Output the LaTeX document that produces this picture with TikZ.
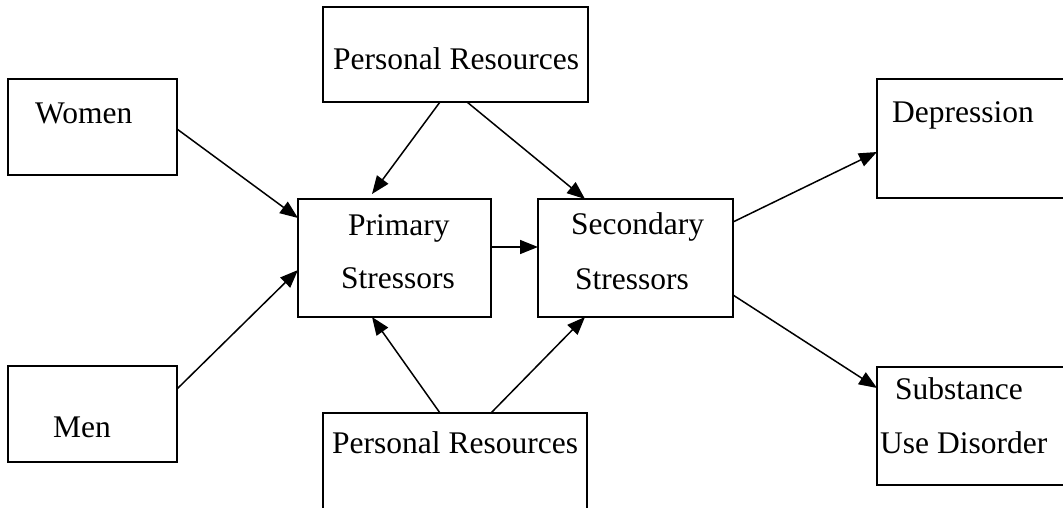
\documentclass[tikz,border=0pt]{standalone}
\usepackage{fontspec}
\setmainfont{Liberation Serif}
\usetikzlibrary{calc,arrows.meta}
\tikzset{
  box/.style={draw=black, line width=1.8pt, rectangle, inner sep=0pt, outer sep=0pt},
  lbl/.style={anchor=base west, inner sep=0pt, font=\fontsize{31.5}{38}\selectfont},
  link/.style={line width=1.5pt, -{Triangle[length=18pt,width=14pt]}}
}
\begin{document}
\begin{tikzpicture}[x=1pt,y=-1pt]
\useasboundingbox (0,0) rectangle (1063,508);
\clip (0,0) rectangle (1063,508);
\fill[white] (0,0) rectangle (1063,508);

% boxes
\node[box, minimum width=169, minimum height=96]  (women)     at (92.5,127)   {};
\node[box, minimum width=169, minimum height=96]  (men)       at (92.5,414)   {};
\node[box, minimum width=265, minimum height=95]  (prtop)     at (455.5,54.5) {};
\node[box, minimum width=264, minimum height=107] (prbot)     at (455,466.5)  {};
\node[box, minimum width=193, minimum height=118] (primary)   at (394.5,258)  {};
\node[box, minimum width=195, minimum height=118] (secondary) at (635.5,258)  {};
\node[box, minimum width=198, minimum height=119] (depr)      at (976,138.5)  {};
\node[box, minimum width=198, minimum height=118] (subst)     at (976,426)    {};

% labels
\node[lbl] (tw)  at (35,124)  {Women};
\node[lbl] (tm)  at (53,437)  {Men};
\node[lbl] (tpt) at (333,70)  {Personal Resources};
\node[lbl] (tpb) at (332,453) {Personal Resources};
\node[lbl] (tp1) at (348,235) {Primary};
\node[lbl] (tp2) at (341,288) {Stressors};
\node[lbl] (ts1) at (571,234) {Secondary};
\node[lbl] (ts2) at (575,289) {Stressors};
\node[lbl] (td)  at (892,123) {Depression};
\node[lbl] (tu1) at (895,399) {Substance};
\node[lbl] (tu2) at (880,453) {Use Disorder};

% connectors
\draw[link] ($(women.east)+(0,2)$) -- ($(primary.north west)+(0,19)$);
\draw[link] ($(men.north east)+(0,23)$) -- ($(primary.north west)+(0,71)$);
\draw[link] ($(prtop.south west)+(117,0)$) -- ($(primary.north west)+(74,-5)$);
\draw[link] ($(prtop.south west)+(144,0)$) -- ($(secondary.north west)+(47,0)$);
\draw[link] ($(primary.north east)+(0,48)$) -- ($(secondary.north west)+(0,48)$);
\draw[link] ($(secondary.north east)+(0,23)$) -- ($(depr.north west)+(0,73)$);
\draw[link] ($(secondary.north east)+(0,96)$) -- ($(subst.north west)+(0,21)$);
\draw[link] ($(prbot.north west)+(117,0)$) -- ($(primary.south west)+(74,0)$);
\draw[link] ($(prbot.north west)+(168,0)$) -- ($(secondary.south west)+(47,0)$);
\end{tikzpicture}
\end{document}
